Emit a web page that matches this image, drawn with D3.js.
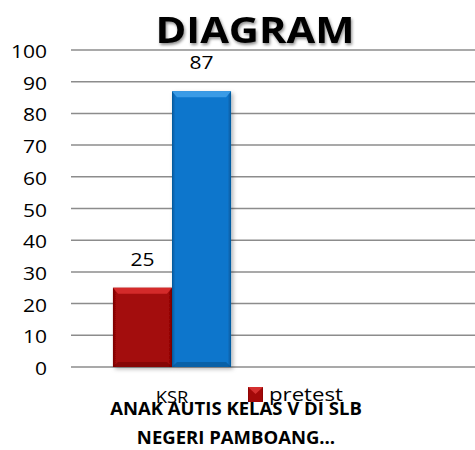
<!DOCTYPE html>
<html>
<head>
<meta charset="utf-8">
<script src="https://cdn.jsdelivr.net/npm/d3@7"></script>
<style>
  body { margin: 0; background: #fff; }
  text { font-family: "Open Sans", "Noto Sans", sans-serif; }
</style>
</head>
<body>
<div id="container"></div>
<script>
const categories = ["KSR", ""];
const seriesNames = ["pretest", "posttest"];
const pretest = [25, null];
const posttest = [87, null];
const yTicks = [0, 10, 20, 30, 40, 50, 60, 70, 80, 90, 100];

const width = 475, height = 450;
const margin = { top: 50, right: 0, bottom: 83, left: 71 };

const svg = d3.select('#container')
    .append('svg')
    .attr('width', width)
    .attr('height', height);

// text is a bit wider than the installed fonts, stretch it horizontally
function place(sel, x, y, sx) {
    return sel.attr('transform', `translate(${x},${y}) scale(${sx},1)`);
}

const defs = svg.append('defs');
function bevel(id, mid, dark) {
    const g = defs.append('linearGradient').attr('id', id)
        .attr('x1', 0).attr('x2', 1).attr('y1', 0).attr('y2', 0);
    g.append('stop').attr('offset', '0%').attr('stop-color', dark);
    g.append('stop').attr('offset', '6%').attr('stop-color', mid);
    g.append('stop').attr('offset', '94%').attr('stop-color', mid);
    g.append('stop').attr('offset', '100%').attr('stop-color', dark);
}
bevel('gradRed', '#a30909', '#780000');
bevel('gradBlue', '#0a76cc', '#05589a');

const shadow = defs.append('filter').attr('id', 'shadow')
    .attr('x', '-20%').attr('y', '-20%').attr('width', '150%').attr('height', '150%');
shadow.append('feDropShadow').attr('dx', 2).attr('dy', 2)
    .attr('stdDeviation', 2).attr('flood-color', '#000').attr('flood-opacity', 0.3);

const x0 = d3.scaleBand()
    .domain(categories)
    .range([margin.left, width - margin.right]);
const x1 = d3.scaleBand()
    .domain(seriesNames)
    .range([0, x0.bandwidth()])
    .paddingOuter(0.71)
    .paddingInner(0);
const y = d3.scaleLinear()
    .domain([0, 100])
    .range([height - margin.bottom, margin.top]);

// gridlines
svg.append('g')
    .selectAll('line')
    .data(yTicks)
    .enter()
    .append('line')
    .attr('x1', margin.left)
    .attr('x2', width - margin.right)
    .attr('y1', d => y(d))
    .attr('y2', d => y(d))
    .attr('stroke', '#8c8c8c')
    .attr('stroke-width', 1.5);

// y axis labels
svg.append('g')
    .selectAll('text')
    .data(yTicks)
    .enter()
    .append('text')
    .each(function (d) { place(d3.select(this), margin.left - 24, y(d) + 8, 1.2); })
    .attr('text-anchor', 'end')
    .attr('font-size', 17.5)
    .attr('fill', '#000')
    .text(d => d);

// bars
const series = [
    { name: 'pretest', values: pretest, fill: 'url(#gradRed)', hi: '#d42a2a', lo: '#6a0000' },
    { name: 'posttest', values: posttest, fill: 'url(#gradBlue)', hi: '#3a9be6', lo: '#044a82' }
];
const barData = [];
categories.forEach((c, i) => {
    series.forEach(s => {
        if (s.values[i] != null) barData.push({ cat: c, s: s, v: s.values[i] });
    });
});

const bars = svg.append('g').attr('class', 'bars');
bars.selectAll('rect')
    .data(barData)
    .enter()
    .append('rect')
    .attr('x', d => x0(d.cat) + x1(d.s.name))
    .attr('y', d => y(d.v))
    .attr('width', x1.bandwidth())
    .attr('height', d => y(0) - y(d.v))
    .attr('fill', d => d.s.fill)
    .attr('filter', 'url(#shadow)');

// top and bottom bevels
bars.selectAll('path.top')
    .data(barData)
    .enter()
    .append('path')
    .attr('class', 'top')
    .attr('d', d => {
        const xl = x0(d.cat) + x1(d.s.name), xr = xl + x1.bandwidth(), yt = y(d.v);
        return `M${xl},${yt} L${xr},${yt} L${xr - 5},${yt + 6} L${xl + 5},${yt + 6} Z`;
    })
    .attr('fill', d => d.s.hi);
bars.selectAll('path.bottom')
    .data(barData)
    .enter()
    .append('path')
    .attr('class', 'bottom')
    .attr('d', d => {
        const xl = x0(d.cat) + x1(d.s.name), xr = xl + x1.bandwidth(), yb = y(0);
        return `M${xl},${yb} L${xr},${yb} L${xr - 5},${yb - 5} L${xl + 5},${yb - 5} Z`;
    })
    .attr('fill', d => d.s.lo)
    .attr('opacity', 0.5);

// data labels
svg.append('g')
    .selectAll('text')
    .data(barData)
    .enter()
    .append('text')
    .each(function (d) {
        place(d3.select(this), x0(d.cat) + x1(d.s.name) + x1.bandwidth() / 2, y(d.v) - 22, 1.2);
    })
    .attr('text-anchor', 'middle')
    .attr('font-size', 17.5)
    .attr('fill', '#000')
    .text(d => d.v);

// category labels
svg.append('g')
    .selectAll('text')
    .data(categories)
    .enter()
    .append('text')
    .each(function (d) { place(d3.select(this), x0(d) + x0.bandwidth() / 2, 403, 1.15); })
    .attr('text-anchor', 'middle')
    .attr('font-size', 16)
    .attr('fill', '#000')
    .text(d => d);

// legend (only first entry visible)
const legend = svg.append('g').attr('transform', 'translate(248,387)');
legend.append('rect')
    .attr('width', 15).attr('height', 15)
    .attr('fill', 'url(#gradRed)');
legend.append('path')
    .attr('d', 'M0,0 L15,0 L7.5,7 Z')
    .attr('fill', '#e03a3a')
    .attr('opacity', 0.8);
place(legend.append('text'), 21, 14, 1.2)
    .attr('font-size', 18.5)
    .attr('fill', '#000')
    .text(seriesNames[0]);

// axis title
place(svg.append('text'), 236, 415, 1)
    .attr('text-anchor', 'middle')
    .attr('font-size', 18.5)
    .attr('font-weight', 'bold')
    .attr('fill', '#000')
    .text('ANAK AUTIS KELAS V DI SLB');
place(svg.append('text'), 236, 444, 1)
    .attr('text-anchor', 'middle')
    .attr('font-size', 18.5)
    .attr('font-weight', 'bold')
    .attr('fill', '#000')
    .text('NEGERI PAMBOANG…');

// chart title
place(svg.append('text'), 255, 43, 1.19)
    .attr('text-anchor', 'middle')
    .attr('font-size', 35)
    .attr('font-weight', 'bold')
    .attr('fill', '#000')
    .style('filter', 'drop-shadow(1px 2px 1.5px rgba(0,0,0,0.45))')
    .text('DIAGRAM');
</script>
</body>
</html>
